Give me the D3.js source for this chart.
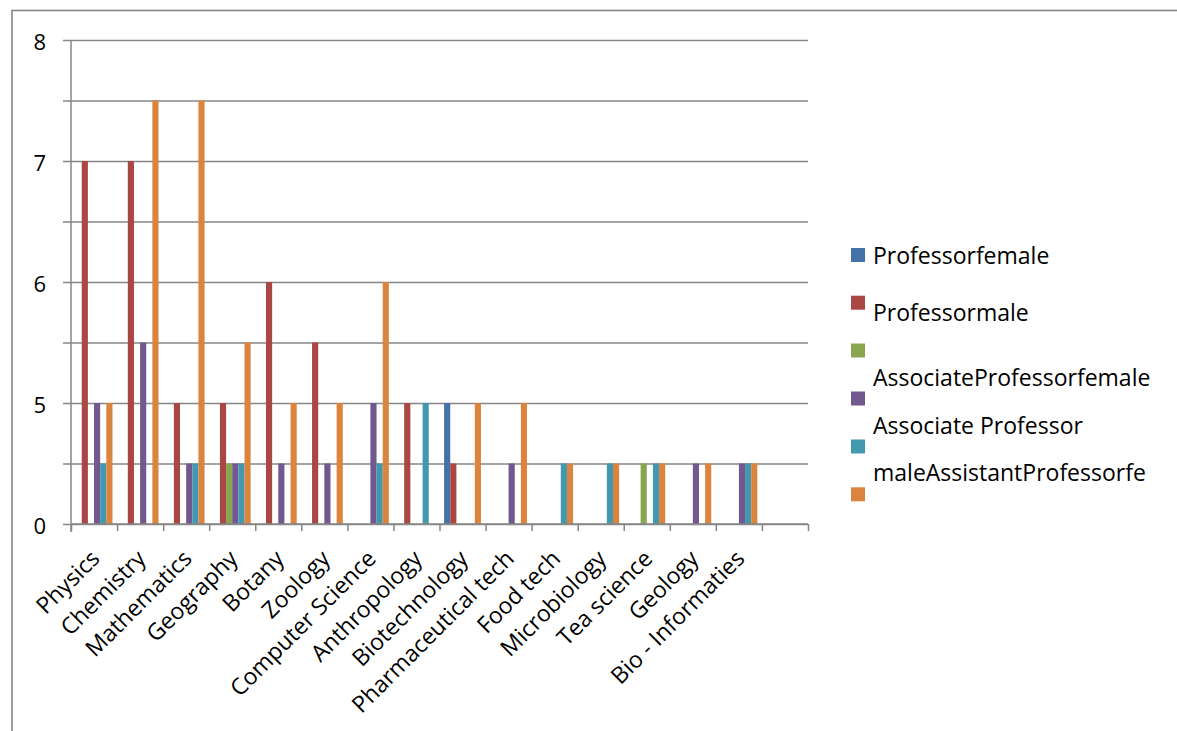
<!DOCTYPE html>
<html>
<head>
<meta charset="utf-8">
<script src="https://cdn.jsdelivr.net/npm/d3@7"></script>
<style>
  html, body { margin: 0; padding: 0; background: #ffffff; }
  svg { display: block; }
  text { font-family: "Open Sans", "DejaVu Sans", sans-serif; fill: #000; }
</style>
</head>
<body>
<svg id="chart" width="1177" height="731"></svg>
<script>
// Departments along the category axis (the last slot is left blank)
const categories = ["Physics", "Chemistry", "Mathematics", "Geography", "Botany", "Zoology",
  "Computer Science", "Anthropology", "Biotechnology", "Pharmaceutical tech", "Food tech",
  "Microbiology", "Tea science", "Geology", "Bio - Informaties", ""];

// Series names, in drawing order
const seriesNames = ["Professor female", "Professor male", "Associate Professor female",
  "Associate Professor male", "Assistant Professor female", "Assistant Professor male"];

// Values per department (null = no bar), in axis units
const professorFemale          = [null, null, null, null, null, null, null, null, 5,   null, null, null, null, null, null, null];
const professorMale            = [7,    7,    5,    5,    6,    5.5,  null, 5,    4.5, null, null, null, null, null, null, null];
const associateProfessorFemale = [null, null, null, 4.5,  null, null, null, null, null, null, null, null, 4.5, null, null, null];
const associateProfessorMale   = [5,    5.5,  4.5,  4.5,  4.5,  4.5,  5,    null, null, 4.5,  null, null, null, 4.5, 4.5, null];
const assistantProfessorFemale = [4.5,  null, 4.5,  4.5,  null, null, 4.5,  5,    null, null, 4.5,  4.5,  4.5,  null, 4.5, null];
const assistantProfessorMale   = [5,    7.5,  7.5,  5.5,  5,    5,    6,    null, 5,    5,    4.5,  4.5,  4.5,  4.5, 4.5, null];

const seriesValues = [professorFemale, professorMale, associateProfessorFemale,
  associateProfessorMale, assistantProfessorFemale, assistantProfessorMale];

const seriesColors = ["#4572A7", "#AA4643", "#89A54E", "#71588F", "#4198AF", "#DB843D"];

// Y axis: gridline values and the labels printed beside them
const yTickValues = [4, 4.5, 5, 5.5, 6, 6.5, 7, 7.5, 8];
const yTickLabels = ["0", "", "5", "", "6", "", "7", "", "8"];

// Legend text as it wraps beside the swatches
const legendLines = ["Professorfemale", "Professormale", "AssociateProfessorfemale",
  "Associate Professor", "maleAssistantProfessorfe"];

const svg = d3.select("#chart");
const gridColor = "#868686";

// chart frame
svg.append("rect")
  .attr("x", 12).attr("y", 10.5)
  .attr("width", 1300).attr("height", 900)
  .attr("fill", "none").attr("stroke", gridColor).attr("stroke-width", 1.6);

const plot = { left: 71, right: 808, top: 40, bottom: 524 };

const x0 = d3.scaleBand().domain(d3.range(categories.length))
  .range([plot.left, plot.right]).paddingInner(0).paddingOuter(0);
const x1 = d3.scaleBand().domain(d3.range(seriesNames.length))
  .range([0, x0.bandwidth()]).paddingInner(0).paddingOuter(0.75);
const y = d3.scaleLinear().domain([4, 8]).range([plot.bottom, plot.top]);

// gridlines
const yAxis = d3.axisLeft(y).tickValues(yTickValues)
  .tickSize(-(plot.right - plot.left)).tickFormat("");
const gGrid = svg.append("g").attr("transform", `translate(${plot.left},0)`).call(yAxis);
gGrid.select(".domain").remove();
gGrid.selectAll(".tick line").attr("stroke", gridColor).attr("stroke-width", 1.5);

// short tick marks left of the value axis, with their labels
const yTicks = d3.axisLeft(y).tickValues(yTickValues).tickSize(8)
  .tickFormat((d, i) => yTickLabels[i]);
const gY = svg.append("g").attr("transform", `translate(${plot.left},0)`).call(yTicks);
gY.select(".domain").remove();
gY.selectAll(".tick line").attr("stroke", gridColor).attr("stroke-width", 1.5);
gY.selectAll(".tick text")
  .attr("x", -25).attr("dy", "0.42em")
  .style("font-family", '"Open Sans", sans-serif')
  .style("font-size", "22px").attr("fill", "#000");

// bars
const groups = svg.append("g").selectAll("g")
  .data(seriesValues).join("g")
  .attr("fill", (d, i) => seriesColors[i]);
groups.each(function(vals, si) {
  d3.select(this).selectAll("rect")
    .data(vals.map((v, ci) => ({ v, ci })).filter(d => d.v !== null))
    .join("rect")
    .attr("x", d => x0(d.ci) + x1(si))
    .attr("width", x1.bandwidth())
    .attr("y", d => y(d.v))
    .attr("height", d => y(4) - y(d.v));
});

// category axis: ticks at the band boundaries
const boundaries = d3.range(categories.length + 1);
const xb = d3.scaleLinear().domain([0, categories.length]).range([plot.left, plot.right]);
const xAxis = d3.axisBottom(xb).tickValues(boundaries).tickSize(7).tickFormat("");
const gX = svg.append("g").attr("transform", `translate(0,${plot.bottom})`).call(xAxis);
gX.select(".domain").attr("stroke", gridColor).attr("stroke-width", 1.5).attr("d", `M${plot.left},0H${plot.right}`);
gX.selectAll(".tick line").attr("stroke", gridColor).attr("stroke-width", 1.5);

// value axis line
svg.append("line")
  .attr("x1", plot.left).attr("x2", plot.left)
  .attr("y1", plot.top).attr("y2", plot.bottom + 8)
  .attr("stroke", gridColor).attr("stroke-width", 1.5);

// rotated category labels
svg.append("g").selectAll("text")
  .data(categories).join("text")
  .attr("transform", (d, i) => `translate(${x0(i) + x0.bandwidth() / 2 + 7},${plot.bottom + 36}) rotate(-45)`)
  .attr("text-anchor", "end")
  .style("font-size", "23px")
  .text(d => d);

// legend
const legend = svg.append("g");
const swatchTop = [248, 295.7, 343.5, 391.5, 439.5, 487.3];
legend.selectAll("rect")
  .data(seriesColors).join("rect")
  .attr("x", 851).attr("y", (d, i) => swatchTop[i])
  .attr("width", 14).attr("height", 14)
  .attr("fill", d => d);
const lineBaselines = [263.5, 321, 386, 433.5, 481];
legend.selectAll("text")
  .data(legendLines).join("text")
  .attr("x", 873).attr("y", (d, i) => lineBaselines[i])
  .style("font-size", "23px")
  .text(d => d);
</script>
</body>
</html>
